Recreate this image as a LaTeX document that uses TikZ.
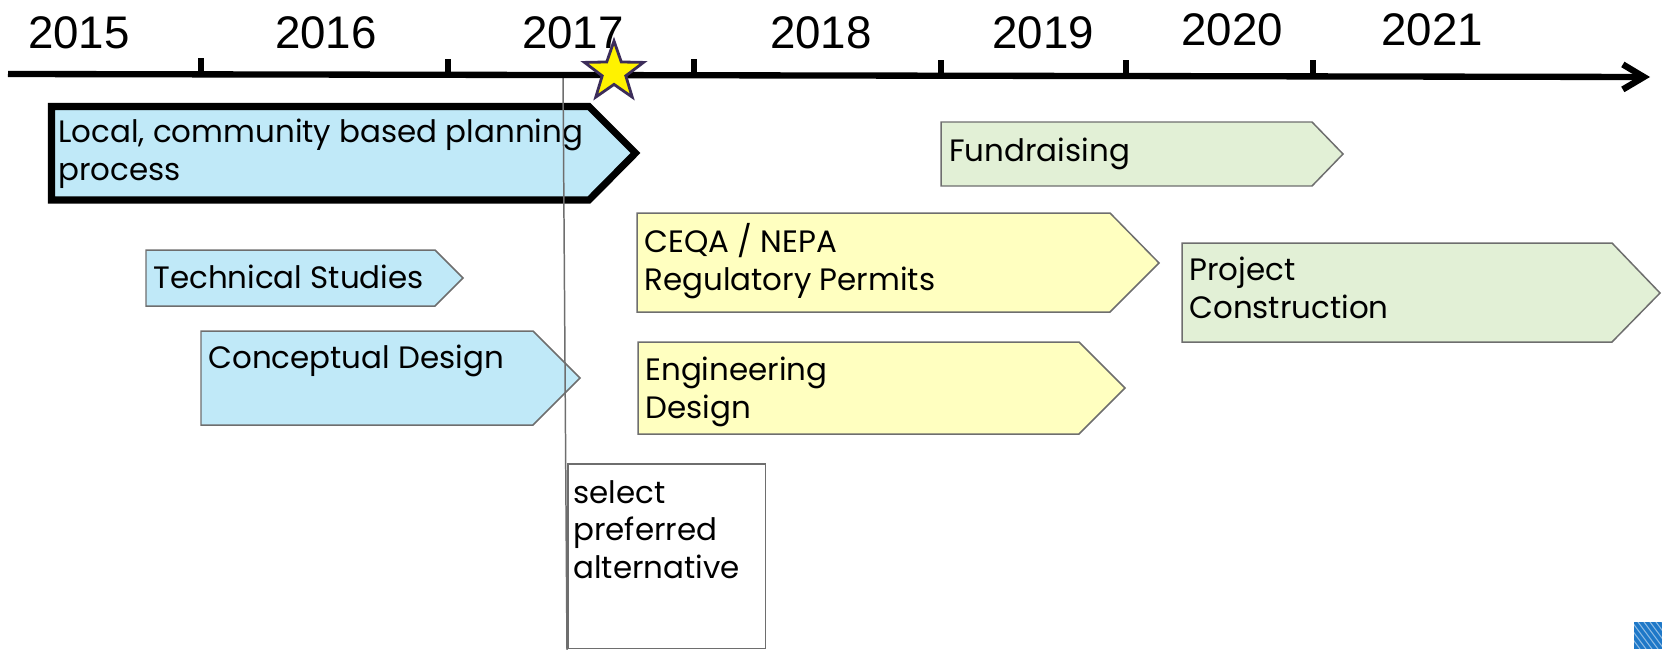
\documentclass[tikz,border=0pt]{standalone}
\usepackage{fontspec}
\usepackage{xcolor}
\usepackage{tikz}
\usetikzlibrary{arrows.meta,positioning,shapes.geometric,calc}
\setmainfont{Liberation Sans}
\newfontfamily\gothic{Poppins}

\definecolor{phaseblue}{RGB}{192,233,248}
\definecolor{phaseyellow}{RGB}{255,255,192}
\definecolor{phasegreen}{RGB}{226,240,214}
\definecolor{edgegray}{RGB}{110,110,110}
\definecolor{starline}{RGB}{60,45,90}
\definecolor{logoblue}{RGB}{30,120,200}

\begin{document}
\begin{tikzpicture}[x=0.02cm, y=-0.02cm,
    timeline/.style={line width=3.6pt, -{Straight Barb[length=0.42cm, width=0.5cm]}},
    tick/.style={line width=3.2pt},
    year/.style={font=\fontsize{26}{30}\selectfont, inner sep=0pt},
    phase/.style={draw=edgegray, line width=0.85pt, line join=miter},
    label/.style={anchor=base west, align=left, inner sep=0pt, font=\gothic\fontsize{17.6}{21.3}\selectfont},
    goal/.style={star, star points=5, star point ratio=2.5, minimum size=1.24cm, inner sep=0pt,
        fill=yellow, draw=starline, line width=1.6pt}
]
    \useasboundingbox (0,0) rectangle (1662,649);

    % Phase shapes
    \draw[line width=4pt, line join=miter, fill=phaseblue] (51.5,106.5) -- (589,106.5) -- (635.5,153) -- (589,200) -- (51.5,200) -- cycle;
    \draw[phase, fill=phaseblue] (146,250) -- (435,250) -- (463,278) -- (435,306) -- (146,306) -- cycle;
    \draw[phase, fill=phaseblue] (201,331) -- (533,331) -- (580,378) -- (533,425) -- (201,425) -- cycle;
    \draw[phase, fill=phasegreen] (941,122) -- (1312,122) -- (1343,154) -- (1312,186) -- (941,186) -- cycle;
    \draw[phase, fill=phaseyellow] (637,213) -- (1110,213) -- (1159,263) -- (1110,312) -- (637,312) -- cycle;
    \draw[phase, fill=phaseyellow] (638,342) -- (1079,342) -- (1125,388) -- (1079,434) -- (638,434) -- cycle;
    \draw[phase, fill=phasegreen] (1182,243) -- (1612,243) -- (1660,293) -- (1612,342) -- (1182,342) -- cycle;

    % Phase labels (base = last line)
    \node[label] (local) at (58,180) {Local, community based planning\\process};
    \node[label] (tech) at (153,288) {Technical Studies};
    \node[label] (concept) at (208,368) {Conceptual Design};
    \node[label] (fund) at (949,161) {Fundraising};
    \node[label] (ceqa) at (644,290) {CEQA / NEPA\\Regulatory Permits};
    \node[label] (eng) at (645,418) {Engineering\\Design};
    \node[label] (build) at (1189,318) {Project\\Construction};

    % Decision
    \node[draw=edgegray, line width=0.85pt, fill=white, minimum width=3.96cm, minimum height=3.7cm,
        anchor=north west, inner sep=0pt] (select) at (567,463) {};
    \node[label] (choice) at (573,578) {select\\preferred\\alternative};
    \coordinate (decision) at (563,76);
    \draw[edgegray, line width=0.85pt] (decision) -- ($(select.south west)+(0,1)$);

    % Timeline
    \coordinate (tl start) at (8,74);
    \coordinate (tl end) at (1650,77);
    \draw[timeline] (tl start) -- (tl end);
    \foreach \x in {201,448,694,941,1126,1313}
        \draw[tick] ($(tl start)!{(\x-8)/1642}!(tl end)$) -- ++(0,-16);
    \foreach \yr/\x/\y in {2015/79/33, 2016/326/33, 2017/573/33, 2018/821/33,
                           2019/1043/33, 2020/1232/30, 2021/1432/30}
        \node[year] (y\yr) at (\x,\y) {\yr};
    \node[goal] (milestone) at (614,72) {};

    % Logo corner
    \begin{scope}
        \clip (1634,622) rectangle (1662,649);
        \fill[logoblue] (1634,622) rectangle (1662,649);
        \foreach \s in {1620,1626,...,1668}
            \draw[white, opacity=0.5, line width=0.6pt] (\s,622) -- (\s+20,649);
    \end{scope}
\end{tikzpicture}
\end{document}
